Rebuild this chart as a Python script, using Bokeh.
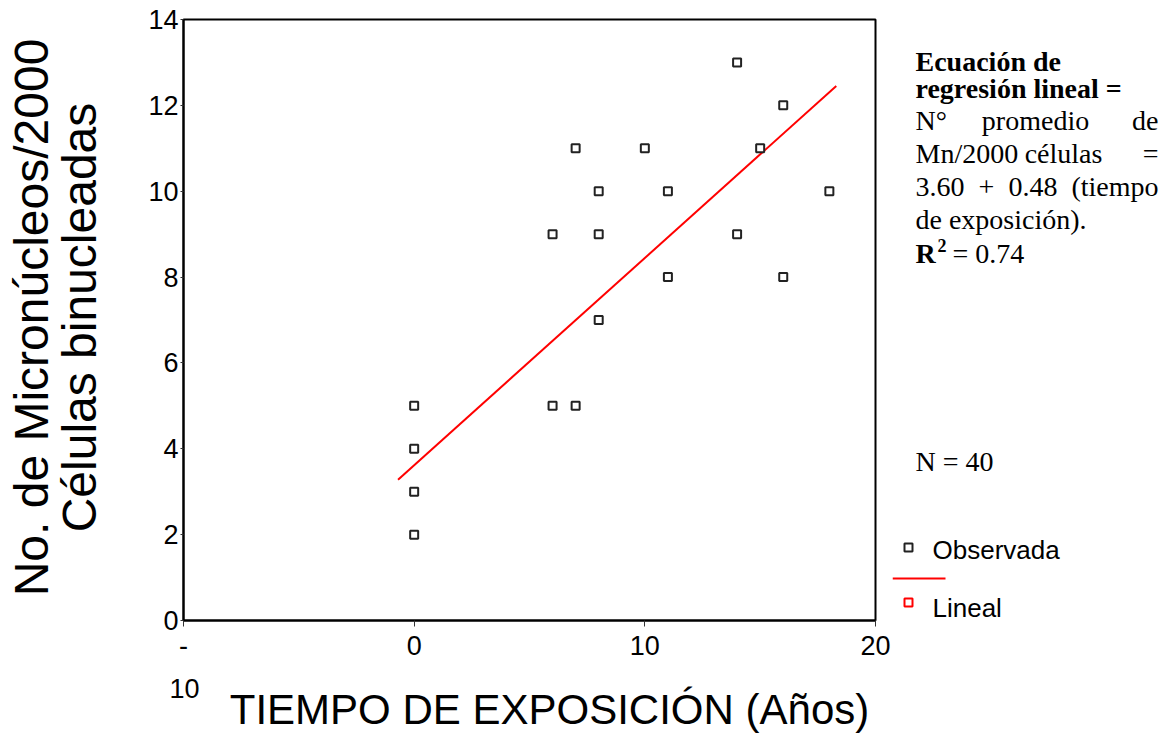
from bokeh.plotting import figure
from bokeh.models import Range1d, FixedTicker
from bokeh.layouts import row, column
from bokeh.core.properties import value
from bokeh.embed import file_html
from bokeh.resources import INLINE
import math

# ---------------- data ----------------
exposure_years = [0, 0, 0, 0, 6, 6, 7, 7, 8, 8, 8, 10, 11, 11, 14, 14, 15, 16, 16, 18]
micronuclei = [5, 4, 3, 2, 9, 5, 11, 5, 10, 9, 7, 11, 10, 8, 13, 9, 11, 12, 8, 10]
fit_x = [-0.7, 18.3]
fit_y = [3.28, 12.45]
x_ticks = [-10, 0, 10, 20]
y_ticks = [0, 2, 4, 6, 8, 10, 12, 14]
x_label = "TIEMPO DE EXPOSICIÓN (Años)"
y_label_1 = "No. de Micronúcleos/2000"
y_label_2 = "Células binucleadas"
legend_labels = ["Observada", "Lineal"]

# ---------------- layout (page px) ----------------
PAGE_W, PAGE_H = 1164, 735
TOP_H = 670                    # height of the upper row
FL, FT, FR, FB = 183, 19, 875, 620   # plot frame in page px
LEFT_W = 130                   # strip holding the y title
MAIN_R = 892                   # right edge of main figure
XMIN, XMAX, YMIN, YMAX = -10, 20, 0, 14

sans = "Liberation Sans"
serif = "Liberation Serif"


def blank(width, height, x0, x1, y0, y1):
    f = figure(width=width, height=height, output_backend="svg", toolbar_location=None,
               x_range=Range1d(x0, x1), y_range=Range1d(y1, y0),
               x_axis_type=None, y_axis_type=None,
               min_border_left=0, min_border_right=0, min_border_top=0, min_border_bottom=0)
    f.frame_align = False
    f.outline_line_color = None
    f.grid.visible = False
    f.background_fill_color = "white"
    f.border_fill_color = "white"
    return f


def txt(f, x, y, s, font=serif, size="28px", bold=False, align="left", angle=0.0):
    f.text(x=[x], y=[y], text=[s], text_font=value(font), text_font_size=size,
           text_font_style="bold" if bold else "normal", text_align=align,
           text_baseline="middle", angle=angle, text_color="black")


# ---------------- main plot ----------------
main_w = MAIN_R - LEFT_W
p = figure(width=main_w, height=TOP_H, output_backend="svg", toolbar_location=None,
           x_range=Range1d(XMIN, XMAX), y_range=Range1d(YMIN, YMAX),
           min_border_left=FL - LEFT_W, min_border_top=FT,
           min_border_right=MAIN_R - FR, min_border_bottom=TOP_H - FB)
p.frame_align = False
p.background_fill_color = "white"
p.border_fill_color = "white"
p.outline_line_color = "black"
p.outline_line_width = 2
p.grid.visible = False

p.xaxis.ticker = FixedTicker(ticks=x_ticks)
p.yaxis.ticker = FixedTicker(ticks=y_ticks)
p.xaxis.major_label_overrides = {-10: "-"}
for ax in (p.xaxis[0], p.yaxis[0]):
    ax.axis_line_color = "black"
    ax.axis_line_width = 2
    ax.major_tick_line_color = "#333333"
    ax.major_tick_line_width = 1
    ax.minor_tick_line_color = None
    ax.major_tick_in = 0
    ax.major_label_text_font = sans
    ax.major_label_text_font_size = "27px"
    ax.major_label_text_color = "black"
p.xaxis.major_tick_out = 6
p.xaxis.major_label_standoff = 9
p.yaxis.major_tick_out = 3
p.yaxis.major_label_standoff = 2

p.line(fit_x, fit_y, line_color="#ff0000", line_width=2)
p.scatter(exposure_years, micronuclei, marker="square", size=8,
          fill_color="white", line_color="#222222", line_width=2)

# ---------------- y title strip ----------------
left = blank(LEFT_W, TOP_H, 0, LEFT_W, 0, TOP_H)
txt(left, 31, 317, y_label_1, font=sans, size="48px", align="center", angle=math.pi / 2)
txt(left, 79, 317, y_label_2, font=sans, size="48px", align="center", angle=math.pi / 2)

# ---------------- right strip: equation, N, legend ----------------
side = blank(PAGE_W - MAIN_R, TOP_H, MAIN_R, PAGE_W, 0, TOP_H)
txt(side, 915, 61, "Ecuación de", bold=True)
txt(side, 915, 88, "regresión lineal =", bold=True)
txt(side, 915, 120, "N°")
txt(side, 1035, 120, "promedio", align="center")
txt(side, 1158, 120, "de", align="right")
txt(side, 915, 153, "Mn/2000")
txt(side, 1063, 153, "células", align="center")
txt(side, 1158, 153, "=", align="right")
txt(side, 915, 186, "3.60")
txt(side, 978, 186, "+")
txt(side, 1008, 186, "0.48")
txt(side, 1158, 186, "(tiempo", align="right")
txt(side, 915, 219, "de exposición).")
txt(side, 915, 253, "R", bold=True)
txt(side, 937, 245, "2", bold=True, size="18px")
txt(side, 952, 253, "= 0.74")
txt(side, 915, 461, "N = 40")

side.scatter([908], [547], marker="square", size=8, fill_color="white",
             line_color="#222222", line_width=2)
side.line([892, 945], [578, 578], line_color="#ff0000", line_width=2)
side.scatter([908], [602], marker="square", size=8, fill_color="white",
             line_color="#ff0000", line_width=2)
txt(side, 932, 549, legend_labels[0], font=sans, size="26px")
txt(side, 932, 607, legend_labels[1], font=sans, size="26px")

# ---------------- bottom strip: "10" of -10 and x title ----------------
bottom = blank(PAGE_W, PAGE_H - TOP_H, 0, PAGE_W, TOP_H, PAGE_H)
txt(bottom, 184, 688, "10", font=sans, size="27px", align="center")
txt(bottom, 549, 709, x_label, font=sans, size="42px", align="center")

layout = column(row(left, p, side), bottom)
open("out.html", "w").write(file_html(layout, INLINE))
